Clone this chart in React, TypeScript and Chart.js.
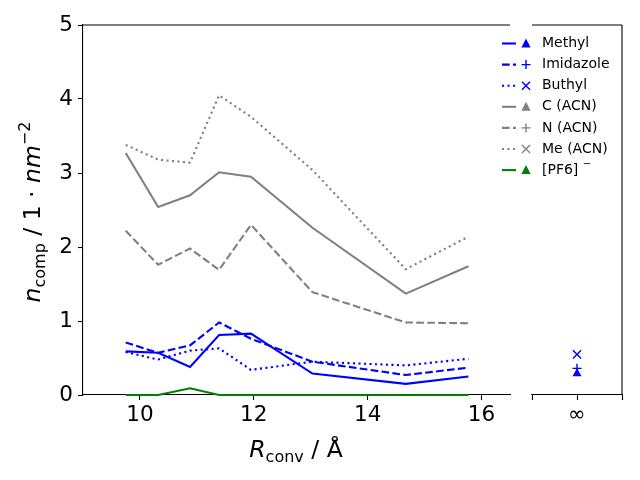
import React, { useEffect, useRef } from 'react';
import { Chart, registerables } from 'chart.js';

Chart.register(...registerables);

// R_conv positions (Å)
const rConv = [9.75, 10.32, 10.88, 11.39, 11.95, 13.03, 14.67, 15.77];
const xTicks = [10, 12, 14, 16];
const yTicks = [0, 1, 2, 3, 4, 5];

// n_comp series
const methyl = [0.59, 0.57, 0.38, 0.81, 0.83, 0.29, 0.15, 0.25];
const imidazole = [0.71, 0.57, 0.67, 0.98, 0.76, 0.45, 0.27, 0.37];
const buthyl = [0.58, 0.48, 0.6, 0.63, 0.34, 0.45, 0.4, 0.49];
const cAcn = [3.27, 2.54, 2.7, 3.01, 2.95, 2.26, 1.37, 1.74];
const nAcn = [2.22, 1.76, 1.98, 1.69, 2.3, 1.39, 0.98, 0.97];
const meAcn = [3.38, 3.18, 3.14, 4.05, 3.76, 3.04, 1.7, 2.14];
const pf6 = [0, 0, 0.09, 0, 0, 0, 0, 0];

// values at R_conv = infinity
const infLabels = ['Methyl', 'Imidazole', 'Buthyl'];
const infValues = [0.29, 0.36, 0.55];

const BLUE = '#0000ff';
const GRAY = '#808080';
const GREEN = '#008000';
const FONT = "'DejaVu Sans'";
const DASHED = [7.7, 3.3];
const DOTTED = [2.1, 3.4];

interface SeriesDef {
  label: string;
  values: number[];
  color: string;
  dash: number[];
  marker: 'tri' | 'plus' | 'x';
}

const series: SeriesDef[] = [
  { label: 'Methyl', values: methyl, color: BLUE, dash: [], marker: 'tri' },
  { label: 'Imidazole', values: imidazole, color: BLUE, dash: DASHED, marker: 'plus' },
  { label: 'Buthyl', values: buthyl, color: BLUE, dash: DOTTED, marker: 'x' },
  { label: 'C (ACN)', values: cAcn, color: GRAY, dash: [], marker: 'tri' },
  { label: 'N (ACN)', values: nAcn, color: GRAY, dash: DASHED, marker: 'plus' },
  { label: 'Me (ACN)', values: meAcn, color: GRAY, dash: DOTTED, marker: 'x' },
  { label: '[PF6]', values: pf6, color: GREEN, dash: [], marker: 'tri' },
];

type Seg = { text: string; font: string; dy?: number };

function drawRich(ctx: CanvasRenderingContext2D, segs: Seg[], x: number, y: number, rot: number) {
  ctx.save();
  ctx.translate(x, y);
  ctx.rotate(rot);
  ctx.fillStyle = '#000';
  ctx.textBaseline = 'alphabetic';
  ctx.textAlign = 'left';
  let total = 0;
  segs.forEach(s => {
    ctx.font = s.font;
    total += ctx.measureText(s.text).width;
  });
  let cx = -total / 2;
  segs.forEach(s => {
    ctx.font = s.font;
    ctx.fillText(s.text, cx, s.dy || 0);
    cx += ctx.measureText(s.text).width;
  });
  ctx.restore();
}

function drawMarker(ctx: CanvasRenderingContext2D, kind: string, x: number, y: number, color: string) {
  ctx.save();
  ctx.fillStyle = color;
  ctx.strokeStyle = color;
  ctx.lineWidth = 1.4;
  ctx.setLineDash([]);
  ctx.beginPath();
  if (kind === 'tri') {
    ctx.moveTo(x, y - 5);
    ctx.lineTo(x + 4.6, y + 4);
    ctx.lineTo(x - 4.6, y + 4);
    ctx.closePath();
    ctx.fill();
  } else if (kind === 'plus') {
    ctx.moveTo(x - 4.5, y);
    ctx.lineTo(x + 4.5, y);
    ctx.moveTo(x, y - 4.5);
    ctx.lineTo(x, y + 4.5);
    ctx.stroke();
  } else {
    ctx.moveTo(x - 4, y - 4);
    ctx.lineTo(x + 4, y + 4);
    ctx.moveTo(x + 4, y - 4);
    ctx.lineTo(x - 4, y + 4);
    ctx.stroke();
  }
  ctx.restore();
}

// top (and optionally right) spine
const spinePlugin = {
  id: 'spines',
  afterDraw(chart: any, _args: any, opts: any) {
    const { ctx, chartArea } = chart;
    ctx.save();
    ctx.strokeStyle = '#000';
    ctx.lineWidth = 1.1;
    ctx.beginPath();
    ctx.moveTo(chartArea.left, chartArea.top);
    ctx.lineTo(chartArea.right, chartArea.top);
    if (opts.right) {
      ctx.moveTo(chartArea.right, chartArea.top);
      ctx.lineTo(chartArea.right, chartArea.bottom);
    }
    ctx.stroke();
    ctx.restore();
  },
};

const titlesPlugin = {
  id: 'titles',
  afterDraw(chart: any) {
    const ctx = chart.ctx;
    const big = `23.5px ${FONT}`;
    const bigIt = `italic 23.5px ${FONT}`;
    const small = `16px ${FONT}`;
    drawRich(ctx, [
      { text: 'R', font: bigIt },
      { text: 'conv', font: small, dy: 5 },
      { text: ' / Å', font: big },
    ], 296, 457, 0);
    drawRich(ctx, [
      { text: 'n', font: bigIt },
      { text: 'comp', font: small, dy: 5 },
      { text: ' / 1 · ', font: big },
      { text: 'nm', font: bigIt },
      { text: '−2', font: small, dy: -10 },
    ], 40, 212, -Math.PI / 2);
  },
};

const legendPlugin = {
  id: 'customLegend',
  afterDraw(chart: any) {
    const ctx = chart.ctx;
    series.forEach((s, i) => {
      const y = 43.5 + i * 21.1;
      ctx.save();
      ctx.strokeStyle = s.color;
      ctx.lineWidth = 2.1;
      ctx.setLineDash(s.dash);
      ctx.beginPath();
      ctx.moveTo(502, y);
      ctx.lineTo(516, y);
      ctx.stroke();
      ctx.restore();
      drawMarker(ctx, s.marker, 526, y, s.color);
      ctx.save();
      ctx.fillStyle = '#000';
      ctx.font = `14px ${FONT}`;
      ctx.textBaseline = 'middle';
      ctx.fillText(s.label, 542, y);
      if (s.label === '[PF6]') {
        const w = ctx.measureText(s.label + ' ').width;
        ctx.font = `10px ${FONT}`;
        ctx.fillText('−', 542 + w, y - 6);
      }
      ctx.restore();
    });
  },
};

const tickFont = { family: FONT, size: 21.5 };
const gridTicks = { display: true, drawOnChartArea: false, drawTicks: true, tickLength: 5, tickColor: '#000', tickWidth: 1.1 };
const border = { display: true, color: '#000', width: 1.1 };

export default function App() {
  const mainRef = useRef<HTMLCanvasElement>(null);
  const infRef = useRef<HTMLCanvasElement>(null);

  useEffect(() => {
    if (!mainRef.current || !infRef.current) return;

    const mainChart = new Chart(mainRef.current, {
      type: 'line',
      data: {
        datasets: series.map(s => ({
          label: s.label,
          data: rConv.map((x, i) => ({ x, y: s.values[i] })),
          borderColor: s.color,
          borderDash: s.dash,
          borderWidth: 2.1,
          pointRadius: 0,
          tension: 0,
          fill: false,
          clip: false,
        })),
      },
      options: {
        responsive: false,
        animation: false,
        events: [],
        layout: { padding: { top: 25, right: 130, left: 0, bottom: 0 } },
        plugins: { legend: { display: false }, tooltip: { enabled: false } },
        scales: {
          x: {
            type: 'linear',
            min: 9,
            max: 16.5,
            afterBuildTicks: (scale: any) => { scale.ticks = xTicks.map(v => ({ value: v })); },
            afterFit: (scale: any) => { scale.height = 85; },
            ticks: { font: tickFont, color: '#000', padding: 3, maxRotation: 0 },
            grid: gridTicks,
            border,
          },
          y: {
            type: 'linear',
            min: 0,
            max: 5,
            afterBuildTicks: (scale: any) => { scale.ticks = yTicks.map(v => ({ value: v })); },
            afterFit: (scale: any) => { scale.width = 83; },
            ticks: { font: tickFont, color: '#000', padding: 5 },
            grid: gridTicks,
            border,
          },
        },
      },
      plugins: [spinePlugin, titlesPlugin],
    } as any);

    const infChart = new Chart(infRef.current, {
      type: 'scatter',
      data: {
        datasets: infLabels.map((label, i) => ({
          label,
          data: [{ x: 0, y: infValues[i] }],
          borderColor: BLUE,
          backgroundColor: BLUE,
          pointStyle: series[i].marker === 'tri' ? 'triangle' : series[i].marker === 'plus' ? 'cross' : 'crossRot',
          pointRadius: series[i].marker === 'tri' ? 5.2 : series[i].marker === 'plus' ? 4.5 : 5.8,
          pointBorderWidth: series[i].marker === 'tri' ? 0 : 1.4,
        })),
      },
      options: {
        responsive: false,
        animation: false,
        events: [],
        layout: { padding: { top: 25, right: 18, left: 532, bottom: 0 } },
        plugins: { legend: { display: false }, tooltip: { enabled: false }, spines: { right: true } },
        scales: {
          x: {
            type: 'linear',
            min: -1,
            max: 1,
            afterBuildTicks: (scale: any) => { scale.ticks = [-1, 0, 1].map(v => ({ value: v })); },
            afterFit: (scale: any) => { scale.height = 85; },
            ticks: { font: tickFont, color: '#000', padding: 3, callback: (v: any) => (v === 0 ? '∞' : '') },
            grid: gridTicks,
            border,
          },
          y: { type: 'linear', min: 0, max: 5, display: false },
        },
      },
      plugins: [spinePlugin, legendPlugin],
    } as any);

    return () => {
      mainChart.destroy();
      infChart.destroy();
    };
  }, []);

  return (
    <div style={{ position: 'absolute', left: 0, top: 0, width: 640, height: 480, background: '#fff' }}>
      <canvas ref={mainRef} width={640} height={480} style={{ position: 'absolute', left: 0, top: 0 }} />
      <canvas ref={infRef} width={640} height={480} style={{ position: 'absolute', left: 0, top: 0 }} />
    </div>
  );
}
